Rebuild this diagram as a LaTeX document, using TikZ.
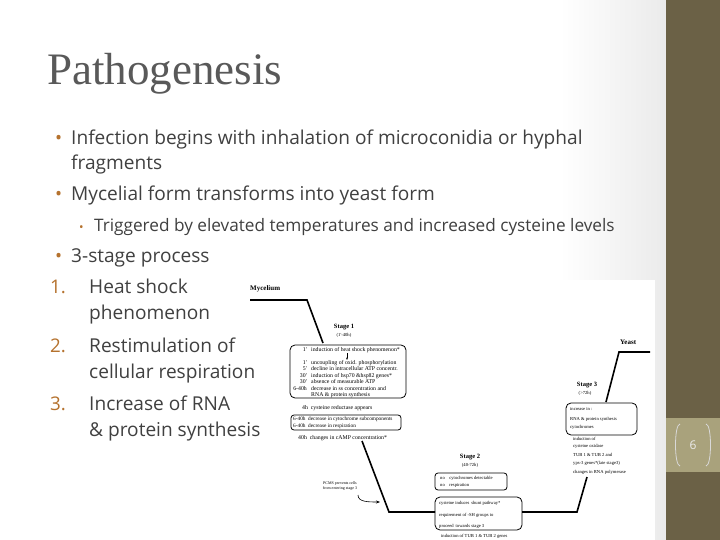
\documentclass[tikz,border=0pt]{standalone}
\usepackage{fontspec}
\setmainfont{Open Sans}
\newfontfamily\titlefont{Liberation Serif}
\newfontfamily\scanfont{Liberation Serif}
\usetikzlibrary{positioning,arrows.meta}
\definecolor{sidebar}{HTML}{6B6146}
\definecolor{pagebox}{HTML}{A9A27C}
\definecolor{bodytext}{HTML}{404040}
\definecolor{accent}{HTML}{B5722E}
\tikzset{
  body/.style={anchor=base west,inner sep=0,text=bodytext,font=\fontsize{19.1}{20}\selectfont},
  sub/.style={anchor=base west,inner sep=0,text=bodytext,font=\fontsize{17.2}{18}\selectfont},
  bulletmark/.style={anchor=base west,inner sep=0,text=accent,font=\fontsize{18.8}{20}\selectfont},
  tiny/.style={anchor=base west,inner sep=0,font=\scanfont\fontsize{4.6}{5}\selectfont},
  stagetext/.style={anchor=base west,inner sep=0,font=\scanfont\fontsize{5.8}{6}\selectfont},
  stagetime/.style={anchor=base east,inner sep=0,font=\scanfont\fontsize{5.8}{6}\selectfont},
  stagelbl/.style={anchor=base,inner sep=0,font=\scanfont\bfseries\fontsize{6.5}{7}\selectfont},
  stagebox/.style={draw,line width=0.8pt,rounded corners=5pt},
  flowline/.style={line width=1.6pt}
}
\begin{document}
\begin{tikzpicture}[x=1pt,y=-1pt]
\useasboundingbox (0,0) rectangle (720,540);
\fill[white] (0,0) rectangle (720,540);
\shade[left color=white,right color=black!8] (560,0) rectangle (666,540);
\fill[white] (240,280) rectangle (655,540);
\fill[sidebar] (666,0) rectangle (720,540);
\fill[pagebox] (666,418) rectangle (720,472);
\node[text=white!92!black,font=\fontsize{12}{14}\selectfont] (pg) at (693,445) {6};
\draw[white!85!black,line width=0.8pt] (680,424) .. controls (674,424) and (674,466) .. (680,466);
\draw[white!85!black,line width=0.8pt] (706,424) .. controls (712,424) and (712,466) .. (706,466);
% title and bullets
\node[anchor=base west,inner sep=0,text=black!65,font=\titlefont\fontsize{45}{48}\selectfont] (title) at (47,85) {Pathogenesis};
\foreach \y in {145,201,262}
  \node[bulletmark] at (55,\y) {\textbullet};
\node[body] (b1) at (71,145) {Infection begins with inhalation of microconidia or hyphal};
\node[body] (b1b) at (71,170) {fragments};
\node[body] (b2) at (71,201) {Mycelial form transforms into yeast form};
\node[bulletmark,font=\fontsize{12}{13}\selectfont] at (79,231) {\textbullet};
\node[sub] (b2a) at (94,231) {Triggered by elevated temperatures and increased cysteine levels};
\node[body] (b3) at (71,262) {3-stage process};
\foreach \n/\y/\a/\b in {1/293/Heat shock/phenomenon, 2/352/Restimulation of/cellular respiration, 3/410/Increase of RNA/\& protein synthesis}{
  \node[bulletmark] at (50,\y) {\n.};
  \node[body] at (89,\y) {\a};
  \node[body] at (89,\y+26) {\b};
}
% scanned figure
\node[anchor=base west,inner sep=0,font=\scanfont\bfseries\fontsize{7}{8}\selectfont] (myc) at (250,290) {Mycelium};
\node[anchor=base west,inner sep=0,font=\scanfont\bfseries\fontsize{7}{8}\selectfont] (yeast) at (620,344) {Yeast};
\draw[flowline] (250,300) -- (307,300) -- (323,343);
\draw[flowline] (362,441) -- (389,512) -- (435,512);
\draw[flowline] (522,512) -- (577,512) -- (587,477);
\draw[flowline] (606,402) -- (619,352) -- (650,352);
% stage 1
\node[stagelbl] (s1) at (344,328) {Stage 1};
\node[tiny,anchor=base] (s1t) at (344,336) {(1'-40h)};
\draw[stagebox] (290,345) rectangle (406,398);
\foreach \y/\tm/\tx in {351/1'/induction of heat shock phenomenon*, 364/1'/uncoupling of oxid. phosphorylation,
    370.5/5'/decline in intracellular ATP concentr., 377/30'/induction of hsp70 \&hsp82 genes*,
    383.5/30'/absence of measurable ATP, 390/6-40h/decrease in ss concentration and}{
  \node[stagetime] at (307,\y) {\tm};
  \node[stagetext] at (311,\y) {\tx};
}
\node[stagetext] (s1g) at (311,396) {RNA \& protein synthesis};
\draw[-{Stealth[length=2.5pt]},line width=0.5pt] (347,353) -- (347,360);
\node[stagetext] (s1h) at (302,409) {4h\enspace cysteine reductase appears};
\draw[stagebox,rounded corners=3pt] (291,415) rectangle (401,430);
\node[stagetext,font=\scanfont\fontsize{5.3}{6}\selectfont] (s1i) at (293,420) {6-40h\enspace decrease in cytochrome subcomponents};
\node[stagetext,font=\scanfont\fontsize{5.3}{6}\selectfont] (s1j) at (293,427) {6-40h\enspace decrease in respiration};
\node[stagetext] (s1k) at (298,439) {40h\enspace changes in cAMP concentration*};
% stage 2
\node[stagelbl] (s2) at (470,458) {Stage 2};
\node[tiny,anchor=base] (s2t) at (470,466) {(40-72h)};
\draw[stagebox,rounded corners=3pt] (435,473) rectangle (507,490);
\node[tiny] (s2a) at (440,479) {no\quad cytochromes detectable};
\node[tiny] (s2b) at (440,486) {no\quad respiration};
\draw[stagebox] (435,497) rectangle (522,530);
\node[tiny] (s2c) at (439,504) {cysteine induces\, shunt pathway*};
\node[tiny] (s2d) at (439,516) {requirement of -SH groups to};
\node[tiny] (s2e) at (439,527) {proceed\, towards stage 3};
\node[tiny] (s2f) at (441,537.5) {induction of TUB 1 \& TUB 2 genes};
\node[tiny,align=center,anchor=center,font=\scanfont\fontsize{4}{5}\selectfont] (pcms) at (340,486) {PCMS prevents cells\\from entering stage 3};
\coordinate (pcmsend) at (380,502);
\draw[-{Stealth[length=4pt]},line width=0.6pt] (358,495) .. controls (358,502) and (368,502) .. (pcmsend);
% stage 3
\node[stagelbl] (s3) at (587,386) {Stage 3};
\node[tiny,anchor=base] (s3t) at (585,394) {(>72h)};
\draw[stagebox] (566,403) rectangle (637,435);
\node[tiny] (s3a) at (570,410) {increase in :};
\node[tiny] (s3b) at (570,420) {RNA \& protein synthesis};
\node[tiny] (s3c) at (570,428.5) {cytochromes};
\node[tiny] (s3d) at (573,440) {induction of};
\node[tiny] (s3e) at (573,447) {cysteine oxidase};
\node[tiny] (s3f) at (573,456) {TUB 1 \& TUB 2 and};
\node[tiny] (s3g) at (573,464) {yps-3 genes*(late stage3)};
\node[tiny] (s3h) at (573,473) {changes in RNA polymerase};
\end{tikzpicture}
\end{document}
